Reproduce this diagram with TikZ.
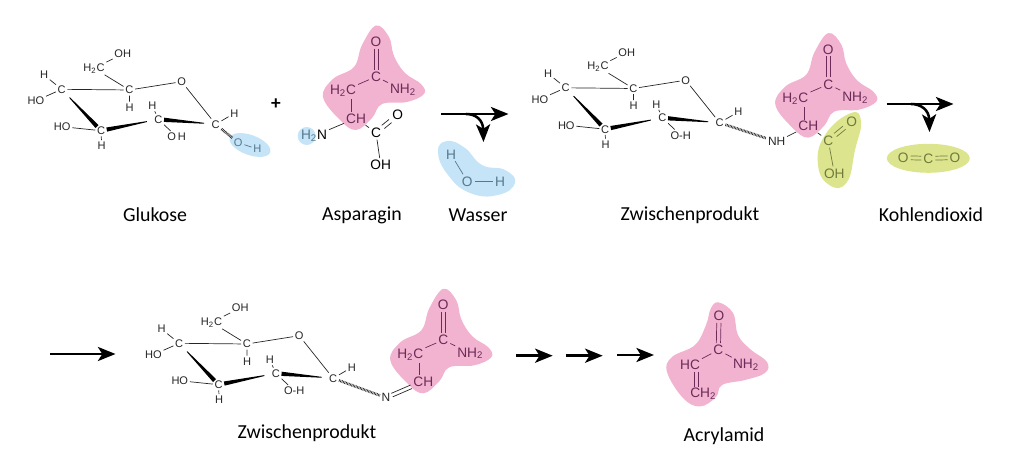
\documentclass[tikz,border=0pt]{standalone}
\usepackage{fontspec}
\setmainfont{Carlito}
\newfontfamily\atomfont{Liberation Sans}
\usetikzlibrary{calc}
\usetikzlibrary{arrows.meta}
\usetikzlibrary{shapes.geometric}

\definecolor{pinkfill}{HTML}{F2B3D0}
\definecolor{bluefill}{HTML}{C6E4F7}
\definecolor{greenfill}{HTML}{DCE48E}
\definecolor{pinkink}{HTML}{6B2A58}
\definecolor{blueink}{HTML}{55788C}
\definecolor{greenink}{HTML}{707A3C}

\tikzset{
 atom/.style={font=\atomfont\fontsize{6.3}{7}\selectfont, text=black!85, inner sep=.8pt},
 bigatom/.style={font=\atomfont\fontsize{7.8}{8}\selectfont, inner sep=1pt},
 caption/.style={font=\fontsize{11.3}{12}\selectfont, text=black},
 bond/.style={black!85, line width=.4pt},
 hashbond/.style={black!85, line width=1.5pt, dash pattern=on .4pt off .45pt},
 bigarrow/.style={black, line width=1.45pt, -{Stealth[length=10pt, width=8pt, inset=2.5pt]}},
}

% wedge from #1 (narrow) to #2 (wide)
\newcommand{\wedgebond}[2]{
 \fill[black] ($($(#1.center)!.2!(#2.center)$)!.25pt!90:(#2.center)$)
  -- ($($(#1.center)!.9!(#2.center)$)!1.2pt!-90:(#1.center)$)
  -- ($($(#1.center)!.9!(#2.center)$)!1.2pt!90:(#1.center)$)
  -- ($($(#1.center)!.2!(#2.center)$)!.25pt!-90:(#2.center)$) -- cycle;
}
% colour, from, to, half distance in x and y
\newcommand{\dblbond}[5]{
 \draw[bond, #1, transform canvas={shift={(#4,#5)}}] (#2) -- (#3);
 \draw[bond, #1, transform canvas={shift={(-#4,-#5)}}] (#2) -- (#3);
}
% prefix, dx, dy, label of the lower OH
\newcommand{\sugar}[4]{
 \begin{scope}[shift={(#2,#3)}, name prefix=#1-]
 \node[atom] (c4) at (61.7,89.3) {C};
 \node[atom] (c5) at (129.3,90) {C};
 \node[atom] (o) at (181.7,81.7) {O};
 \node[atom] (c1) at (215.7,124.3) {C};
 \node[atom] (c2) at (158.3,119.3) {C};
 \node[atom] (c3) at (101,130.7) {C};
 \node[atom] (h4) at (44,75) {H};
 \node[atom] (oh4) at (36,100.7) {HO};
 \node[atom] (c6) at (94,68.3) {H\textsubscript{2}C};
 \node[atom] (oh6) at (122.7,54) {OH};
 \node[atom] (h5) at (129.7,107.3) {H};
 \node[atom] (oh3) at (62.3,126.7) {HO};
 \node[atom] (h3) at (101.7,145.7) {H};
 \node[atom] (h2) at (152.3,105.7) {H};
 \node[atom] (oh2) at (176.7,136.7) {#4};
 \node[atom] (h1) at (234.3,113.3) {H};
 \draw[bond] (c4) -- (c5);
 \draw[bond] (c5) -- (o);
 \draw[bond] (o) -- (c1);
 \draw[bond] (c4) -- (h4);
 \draw[bond] (c4) -- (oh4);
 \draw[bond] (c5) -- (c6);
 \draw[bond] (c6) -- (oh6);
 \draw[bond] (c5) -- (h5);
 \draw[bond] (c3) -- (oh3);
 \draw[bond] (c3) -- (h3);
 \draw[bond] (c2) -- (h2);
 \draw[bond] (c2) -- (oh2);
 \draw[bond] (c1) -- (h1);
 \wedgebond{c4}{c3}
 \wedgebond{c2}{c3}
 \wedgebond{c1}{c2}
 \end{scope}
}
\newcommand{\pinkblob}[2]{
 \fill[pinkfill, shift={(#1,#2)}] plot[smooth cycle, tension=.65] coordinates {
  (376,25.5) (389,37) (394,56) (405,73) (421,84) (424,94) (407,102) (382,104)
  (372,118) (356,130) (340,120) (323,97) (333,79) (354,67) (362,45)};
}
% prefix, dx, dy
\newcommand{\amide}[3]{
 \begin{scope}[shift={(#2,#3)}, name prefix=#1-, every node/.append style={bigatom, text=pinkink}]
 \node (o) at (376,41.7) {O};
 \node (c) at (376,76.7) {C};
 \node (nh) at (403,90) {NH\textsubscript{2}};
 \node (ch2) at (343,91) {H\textsubscript{2}C};
 \node (ch) at (356,118.3) {CH};
 \coordinate (cha) at (351.7,99.5);
 \coordinate (chb) at (351.7,112);
 \dblbond{pinkink}{o}{c}{1.2pt}{0pt}
 \draw[bond, pinkink] (c) -- (nh);
 \draw[bond, pinkink] (c) -- (ch2);
 \draw[bond, pinkink] (cha) -- (chb);
 \end{scope}
}

\begin{document}
\begin{tikzpicture}[x=.02cm, y=-.02cm]
\useasboundingbox (0,0) rectangle (1024,475);
% coloured patches first
\pinkblob{0}{0}
\pinkblob{452.3}{7.6}
\pinkblob{67.3}{263.3}
\fill[pinkfill] plot[smooth cycle, tension=.65] coordinates {
 (719,302.5) (733,313) (738,335) (750,349) (767,362) (765,373) (745,380) (722,385)
 (716,397) (700,406.5) (683,398) (667,372) (672,357) (695,345) (706,325) (711,308)};
\fill[bluefill] plot[smooth cycle, tension=.8] coordinates {
 (447,141) (465,148) (482,165) (505,170) (515,183) (498,195) (470,193) (448,175) (438,152)};
\fill[greenfill] plot[smooth cycle, tension=.8] coordinates {
 (851,113) (861,122) (855,150) (847,182) (830,185.5) (818,165) (825,135)};
\node[ellipse, fill=bluefill, inner sep=0pt, minimum width=.86cm, minimum height=.4cm, rotate=-20] (oh-patch) at (250,145) {};
\node[circle, fill=bluefill, inner sep=0pt, minimum size=.36cm] (nh-patch) at (306.7,136) {};
\node[ellipse, fill=greenfill, inner sep=0pt, minimum width=1.66cm, minimum height=.58cm] (co-patch) at (928.3,158.3) {};

% glucose
\sugar{a}{0}{0}{O\,H}
\node[atom, text=blueink] (a-o1) at (238.3,142.7) {O};
\node[atom, text=blueink] (a-h) at (257.3,149) {H};
\draw[hashbond] (a-c1) -- (a-o1);
\draw[bond, blueink] (a-o1) -- (a-h);
\node[font=\bfseries\fontsize{11}{12}\selectfont] (plus) at (276,104) {+};

% asparagine
\amide{b}{0}{0}
\node[bigatom] (b-coo) at (376,132.7) {C};
\node[bigatom] (b-o) at (397.7,115) {O};
\node[bigatom] (b-oh) at (380.7,165) {OH};
\node[bigatom] (b-nh) at (314,136) {\textcolor{blueink}{H\textsubscript{2}}N};
\draw[bond] (b-ch) -- (b-coo);
\dblbond{black!85}{b-coo}{b-o}{.75pt}{-.9pt}
\draw[bond] (b-coo) -- (b-oh);
\draw[bond] (b-ch) -- (b-nh);

% water
\node[bigatom, text=blueink] (w-h) at (451,154.3) {H};
\node[bigatom, text=blueink] (w-o) at (467.3,181.3) {O};
\node[bigatom, text=blueink] (w-hh) at (500,181.3) {H};
\draw[bond, blueink] (w-h) -- (w-o);
\draw[bond, blueink] (w-o) -- (w-hh);

\coordinate (ar1s) at (441,114);
\coordinate (ar1e) at (508.5,114);
\coordinate (ar1b) at (466,114);
\coordinate (ar1d) at (483.5,142);
\draw[bigarrow] (ar1s) -- (ar1e);
\draw[bigarrow] (ar1b) .. controls (476,114) and (483,120) .. (ar1d);

% first product
\sugar{c}{504}{-1.5}{O-H}
\amide{d}{452.3}{7.6}
\node[atom, font=\atomfont\fontsize{6.8}{7}\selectfont] (d-nh2) at (776.7,141.7) {NH};
\node[bigatom, text=greenink] (d-coo) at (828.3,140.7) {C};
\node[bigatom, text=greenink] (d-o) at (851.7,121.7) {O};
\node[bigatom, text=greenink] (d-oh) at (834.3,173.3) {OH};
\draw[hashbond] (c-c1) -- (d-nh2);
\draw[bond] (d-nh2) -- (d-ch);
\draw[bond] (d-ch) -- (d-coo);
\dblbond{greenink}{d-coo}{d-o}{.75pt}{-.9pt}
\draw[bond, greenink] (d-coo) -- (d-oh);

% carbon dioxide
\node[bigatom, text=greenink] (e-o) at (903.3,157.7) {O};
\node[bigatom, text=greenink] (e-c) at (928.3,158.3) {C};
\node[bigatom, text=greenink] (e-oo) at (955,157.7) {O};
\dblbond{greenink}{e-o}{e-c}{0pt}{1.1pt}
\dblbond{greenink}{e-c}{e-oo}{0pt}{1.1pt}

\coordinate (ar2s) at (886.5,104);
\coordinate (ar2e) at (953.5,104);
\coordinate (ar2b) at (911,104);
\coordinate (ar2d) at (929.5,132);
\draw[bigarrow] (ar2s) -- (ar2e);
\draw[bigarrow] (ar2b) .. controls (921,104) and (929,110) .. (ar2d);

% second row
\coordinate (ar3s) at (50,354);
\coordinate (ar3e) at (115.5,354);
\draw[bigarrow] (ar3s) -- (ar3e);
\sugar{f}{117.5}{254}{O-H}
\amide{g}{67.3}{263.3}
\node[atom, font=\atomfont\fontsize{6.8}{7}\selectfont] (g-n) at (386,397.7) {N};
\draw[hashbond] (f-c1) -- (g-n);
\dblbond{black!85}{g-n}{g-ch}{.4pt}{-1pt}

\foreach \nm/\xa/\xb/\yy in {p/516/552.7/355.7, q/566/602.7/355.7, r/617.3/654/355} {
 \coordinate (\nm s) at (\xa,\yy);
 \coordinate (\nm e) at (\xb,\yy);
 \draw[bigarrow] (\nm s) -- (\nm e);
}

% acrylamide
\begin{scope}[every node/.append style={bigatom, text=pinkink}]
\node (k-o) at (719,316) {O};
\node (k-c) at (718.3,350) {C};
\node (k-nh) at (746,365) {NH\textsubscript{2}};
\node (k-hc) at (690,365) {HC};
\node (k-ch) at (703.3,393.3) {CH\textsubscript{2}};
\end{scope}
\coordinate (k-da) at (696.7,372);
\coordinate (k-db) at (696.7,387);
\dblbond{pinkink}{k-o}{k-c}{1.2pt}{0pt}
\draw[bond, pinkink] (k-c) -- (k-nh);
\draw[bond, pinkink] (k-c) -- (k-hc);
\dblbond{pinkink}{k-da}{k-db}{1.1pt}{0pt}

% captions
\node[caption] (t-glu) at (155,215) {Glukose};
\node[caption] (t-asn) at (362,215) {Asparagin};
\node[caption] (t-was) at (478,215) {Wasser};
\node[caption] (t-zwa) at (690,215) {Zwischenprodukt};
\node[caption] (t-koh) at (931,215) {Kohlendioxid};
\node[caption] (t-zwb) at (307,433) {Zwischenprodukt};
\node[caption] (t-acr) at (724,436) {Acrylamid};
\end{tikzpicture}
\end{document}
